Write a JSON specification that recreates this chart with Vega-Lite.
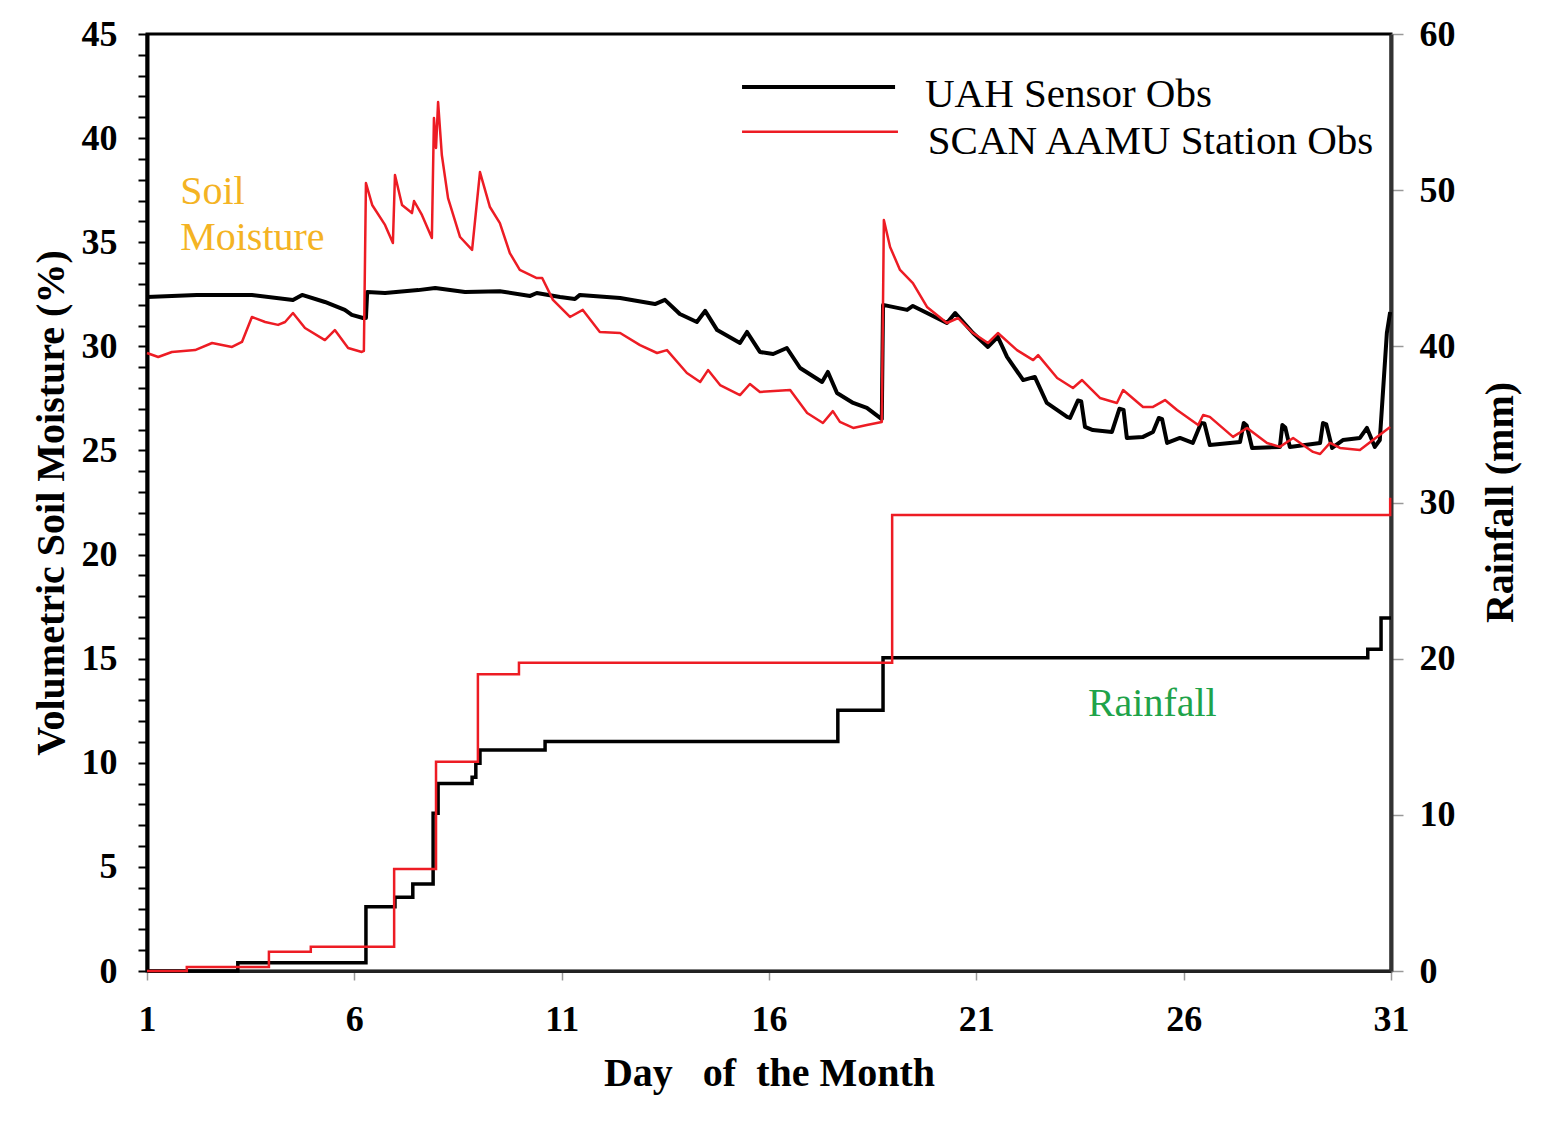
{
  "$schema": "https://vega.github.io/schema/vega-lite/v6.json",
  "width": 1244,
  "height": 937,
  "autosize": "none",
  "padding": {"left": 147, "top": 34, "right": 152, "bottom": 152},
  "background": "white",
  "config": {
    "view": {"stroke": "#000", "strokeWidth": 3},
    "font": "Liberation Serif",
    "axis": {
      "grid": false,
      "labelFont": "Liberation Serif",
      "labelFontWeight": "bold",
      "labelFontSize": 36,
      "labelColor": "#000",
      "titleFont": "Liberation Serif",
      "titleFontWeight": "bold",
      "titleFontSize": 40,
      "titleColor": "#000",
      "labelFlush": false,
      "labelOverlap": false
    }
  },
  "datasets": {
    "uah_sm": [
      {"series": "UAH Sensor Obs", "day": 1.00, "sm": 32.37},
      {"series": "UAH Sensor Obs", "day": 2.20, "sm": 32.47},
      {"series": "UAH Sensor Obs", "day": 3.53, "sm": 32.47},
      {"series": "UAH Sensor Obs", "day": 4.52, "sm": 32.23},
      {"series": "UAH Sensor Obs", "day": 4.74, "sm": 32.47},
      {"series": "UAH Sensor Obs", "day": 5.29, "sm": 32.13},
      {"series": "UAH Sensor Obs", "day": 5.77, "sm": 31.75},
      {"series": "UAH Sensor Obs", "day": 5.94, "sm": 31.51},
      {"series": "UAH Sensor Obs", "day": 6.21, "sm": 31.36},
      {"series": "UAH Sensor Obs", "day": 6.28, "sm": 31.36},
      {"series": "UAH Sensor Obs", "day": 6.31, "sm": 32.61},
      {"series": "UAH Sensor Obs", "day": 6.74, "sm": 32.56},
      {"series": "UAH Sensor Obs", "day": 7.54, "sm": 32.70},
      {"series": "UAH Sensor Obs", "day": 7.95, "sm": 32.80},
      {"series": "UAH Sensor Obs", "day": 8.67, "sm": 32.61},
      {"series": "UAH Sensor Obs", "day": 9.51, "sm": 32.65},
      {"series": "UAH Sensor Obs", "day": 10.24, "sm": 32.42},
      {"series": "UAH Sensor Obs", "day": 10.40, "sm": 32.56},
      {"series": "UAH Sensor Obs", "day": 10.96, "sm": 32.37},
      {"series": "UAH Sensor Obs", "day": 11.32, "sm": 32.27},
      {"series": "UAH Sensor Obs", "day": 11.44, "sm": 32.47},
      {"series": "UAH Sensor Obs", "day": 12.41, "sm": 32.32},
      {"series": "UAH Sensor Obs", "day": 13.25, "sm": 32.03},
      {"series": "UAH Sensor Obs", "day": 13.49, "sm": 32.23},
      {"series": "UAH Sensor Obs", "day": 13.85, "sm": 31.55},
      {"series": "UAH Sensor Obs", "day": 14.26, "sm": 31.17},
      {"series": "UAH Sensor Obs", "day": 14.46, "sm": 31.70},
      {"series": "UAH Sensor Obs", "day": 14.75, "sm": 30.78},
      {"series": "UAH Sensor Obs", "day": 15.30, "sm": 30.16},
      {"series": "UAH Sensor Obs", "day": 15.47, "sm": 30.69},
      {"series": "UAH Sensor Obs", "day": 15.78, "sm": 29.73},
      {"series": "UAH Sensor Obs", "day": 16.10, "sm": 29.63},
      {"series": "UAH Sensor Obs", "day": 16.43, "sm": 29.92},
      {"series": "UAH Sensor Obs", "day": 16.75, "sm": 28.96},
      {"series": "UAH Sensor Obs", "day": 17.28, "sm": 28.29},
      {"series": "UAH Sensor Obs", "day": 17.42, "sm": 28.77},
      {"series": "UAH Sensor Obs", "day": 17.64, "sm": 27.76},
      {"series": "UAH Sensor Obs", "day": 18.03, "sm": 27.28},
      {"series": "UAH Sensor Obs", "day": 18.36, "sm": 27.04},
      {"series": "UAH Sensor Obs", "day": 18.68, "sm": 26.56},
      {"series": "UAH Sensor Obs", "day": 18.72, "sm": 26.51},
      {"series": "UAH Sensor Obs", "day": 18.75, "sm": 31.99},
      {"series": "UAH Sensor Obs", "day": 19.33, "sm": 31.75},
      {"series": "UAH Sensor Obs", "day": 19.47, "sm": 31.94},
      {"series": "UAH Sensor Obs", "day": 19.81, "sm": 31.60},
      {"series": "UAH Sensor Obs", "day": 20.29, "sm": 31.12},
      {"series": "UAH Sensor Obs", "day": 20.49, "sm": 31.60},
      {"series": "UAH Sensor Obs", "day": 20.92, "sm": 30.64},
      {"series": "UAH Sensor Obs", "day": 21.28, "sm": 29.97},
      {"series": "UAH Sensor Obs", "day": 21.52, "sm": 30.45},
      {"series": "UAH Sensor Obs", "day": 21.74, "sm": 29.49},
      {"series": "UAH Sensor Obs", "day": 22.13, "sm": 28.38},
      {"series": "UAH Sensor Obs", "day": 22.41, "sm": 28.53},
      {"series": "UAH Sensor Obs", "day": 22.70, "sm": 27.28},
      {"series": "UAH Sensor Obs", "day": 23.19, "sm": 26.61},
      {"series": "UAH Sensor Obs", "day": 23.26, "sm": 26.56},
      {"series": "UAH Sensor Obs", "day": 23.45, "sm": 27.40},
      {"series": "UAH Sensor Obs", "day": 23.53, "sm": 27.35},
      {"series": "UAH Sensor Obs", "day": 23.62, "sm": 26.13},
      {"series": "UAH Sensor Obs", "day": 23.81, "sm": 25.98},
      {"series": "UAH Sensor Obs", "day": 24.27, "sm": 25.89},
      {"series": "UAH Sensor Obs", "day": 24.45, "sm": 27.00},
      {"series": "UAH Sensor Obs", "day": 24.55, "sm": 26.95},
      {"series": "UAH Sensor Obs", "day": 24.63, "sm": 25.60},
      {"series": "UAH Sensor Obs", "day": 25.02, "sm": 25.65},
      {"series": "UAH Sensor Obs", "day": 25.26, "sm": 25.89},
      {"series": "UAH Sensor Obs", "day": 25.40, "sm": 26.56},
      {"series": "UAH Sensor Obs", "day": 25.48, "sm": 26.50},
      {"series": "UAH Sensor Obs", "day": 25.60, "sm": 25.36},
      {"series": "UAH Sensor Obs", "day": 25.91, "sm": 25.60},
      {"series": "UAH Sensor Obs", "day": 26.22, "sm": 25.36},
      {"series": "UAH Sensor Obs", "day": 26.42, "sm": 26.32},
      {"series": "UAH Sensor Obs", "day": 26.50, "sm": 26.30},
      {"series": "UAH Sensor Obs", "day": 26.63, "sm": 25.26},
      {"series": "UAH Sensor Obs", "day": 27.36, "sm": 25.41},
      {"series": "UAH Sensor Obs", "day": 27.45, "sm": 26.32},
      {"series": "UAH Sensor Obs", "day": 27.52, "sm": 26.20},
      {"series": "UAH Sensor Obs", "day": 27.65, "sm": 25.12},
      {"series": "UAH Sensor Obs", "day": 28.32, "sm": 25.17},
      {"series": "UAH Sensor Obs", "day": 28.38, "sm": 26.22},
      {"series": "UAH Sensor Obs", "day": 28.45, "sm": 26.10},
      {"series": "UAH Sensor Obs", "day": 28.56, "sm": 25.17},
      {"series": "UAH Sensor Obs", "day": 29.29, "sm": 25.36},
      {"series": "UAH Sensor Obs", "day": 29.36, "sm": 26.32},
      {"series": "UAH Sensor Obs", "day": 29.44, "sm": 26.25},
      {"series": "UAH Sensor Obs", "day": 29.58, "sm": 25.12},
      {"series": "UAH Sensor Obs", "day": 29.84, "sm": 25.50},
      {"series": "UAH Sensor Obs", "day": 30.25, "sm": 25.60},
      {"series": "UAH Sensor Obs", "day": 30.42, "sm": 26.08},
      {"series": "UAH Sensor Obs", "day": 30.61, "sm": 25.17},
      {"series": "UAH Sensor Obs", "day": 30.73, "sm": 25.50},
      {"series": "UAH Sensor Obs", "day": 30.90, "sm": 30.64},
      {"series": "UAH Sensor Obs", "day": 30.98, "sm": 31.65}
    ],
    "scan_sm": [
      {"series": "SCAN AAMU Station Obs", "day": 1.00, "sm": 29.68},
      {"series": "SCAN AAMU Station Obs", "day": 1.27, "sm": 29.49},
      {"series": "SCAN AAMU Station Obs", "day": 1.60, "sm": 29.73},
      {"series": "SCAN AAMU Station Obs", "day": 2.16, "sm": 29.82},
      {"series": "SCAN AAMU Station Obs", "day": 2.57, "sm": 30.16},
      {"series": "SCAN AAMU Station Obs", "day": 3.05, "sm": 29.97},
      {"series": "SCAN AAMU Station Obs", "day": 3.29, "sm": 30.21},
      {"series": "SCAN AAMU Station Obs", "day": 3.53, "sm": 31.41},
      {"series": "SCAN AAMU Station Obs", "day": 3.85, "sm": 31.17},
      {"series": "SCAN AAMU Station Obs", "day": 4.16, "sm": 31.03},
      {"series": "SCAN AAMU Station Obs", "day": 4.33, "sm": 31.17},
      {"series": "SCAN AAMU Station Obs", "day": 4.52, "sm": 31.60},
      {"series": "SCAN AAMU Station Obs", "day": 4.81, "sm": 30.88},
      {"series": "SCAN AAMU Station Obs", "day": 5.29, "sm": 30.30},
      {"series": "SCAN AAMU Station Obs", "day": 5.53, "sm": 30.78},
      {"series": "SCAN AAMU Station Obs", "day": 5.85, "sm": 29.92},
      {"series": "SCAN AAMU Station Obs", "day": 6.18, "sm": 29.73},
      {"series": "SCAN AAMU Station Obs", "day": 6.23, "sm": 29.78},
      {"series": "SCAN AAMU Station Obs", "day": 6.28, "sm": 37.84},
      {"series": "SCAN AAMU Station Obs", "day": 6.43, "sm": 36.79},
      {"series": "SCAN AAMU Station Obs", "day": 6.74, "sm": 35.83},
      {"series": "SCAN AAMU Station Obs", "day": 6.93, "sm": 34.96},
      {"series": "SCAN AAMU Station Obs", "day": 6.98, "sm": 38.23},
      {"series": "SCAN AAMU Station Obs", "day": 7.15, "sm": 36.79},
      {"series": "SCAN AAMU Station Obs", "day": 7.39, "sm": 36.40},
      {"series": "SCAN AAMU Station Obs", "day": 7.44, "sm": 36.98},
      {"series": "SCAN AAMU Station Obs", "day": 7.63, "sm": 36.31},
      {"series": "SCAN AAMU Station Obs", "day": 7.87, "sm": 35.20},
      {"series": "SCAN AAMU Station Obs", "day": 7.92, "sm": 40.97},
      {"series": "SCAN AAMU Station Obs", "day": 7.97, "sm": 39.53},
      {"series": "SCAN AAMU Station Obs", "day": 8.02, "sm": 41.73},
      {"series": "SCAN AAMU Station Obs", "day": 8.11, "sm": 39.19},
      {"series": "SCAN AAMU Station Obs", "day": 8.26, "sm": 37.12},
      {"series": "SCAN AAMU Station Obs", "day": 8.55, "sm": 35.25},
      {"series": "SCAN AAMU Station Obs", "day": 8.84, "sm": 34.63},
      {"series": "SCAN AAMU Station Obs", "day": 9.03, "sm": 38.37},
      {"series": "SCAN AAMU Station Obs", "day": 9.27, "sm": 36.69},
      {"series": "SCAN AAMU Station Obs", "day": 9.51, "sm": 35.92},
      {"series": "SCAN AAMU Station Obs", "day": 9.75, "sm": 34.48},
      {"series": "SCAN AAMU Station Obs", "day": 9.99, "sm": 33.67},
      {"series": "SCAN AAMU Station Obs", "day": 10.40, "sm": 33.28},
      {"series": "SCAN AAMU Station Obs", "day": 10.53, "sm": 33.28},
      {"series": "SCAN AAMU Station Obs", "day": 10.79, "sm": 32.23},
      {"series": "SCAN AAMU Station Obs", "day": 11.20, "sm": 31.41},
      {"series": "SCAN AAMU Station Obs", "day": 11.51, "sm": 31.75},
      {"series": "SCAN AAMU Station Obs", "day": 11.92, "sm": 30.69},
      {"series": "SCAN AAMU Station Obs", "day": 12.41, "sm": 30.64},
      {"series": "SCAN AAMU Station Obs", "day": 12.89, "sm": 30.06},
      {"series": "SCAN AAMU Station Obs", "day": 13.30, "sm": 29.68},
      {"series": "SCAN AAMU Station Obs", "day": 13.54, "sm": 29.82},
      {"series": "SCAN AAMU Station Obs", "day": 14.02, "sm": 28.72},
      {"series": "SCAN AAMU Station Obs", "day": 14.34, "sm": 28.29},
      {"series": "SCAN AAMU Station Obs", "day": 14.53, "sm": 28.86},
      {"series": "SCAN AAMU Station Obs", "day": 14.82, "sm": 28.14},
      {"series": "SCAN AAMU Station Obs", "day": 15.30, "sm": 27.66},
      {"series": "SCAN AAMU Station Obs", "day": 15.54, "sm": 28.19},
      {"series": "SCAN AAMU Station Obs", "day": 15.78, "sm": 27.81},
      {"series": "SCAN AAMU Station Obs", "day": 16.51, "sm": 27.90},
      {"series": "SCAN AAMU Station Obs", "day": 16.92, "sm": 26.80},
      {"series": "SCAN AAMU Station Obs", "day": 17.30, "sm": 26.32},
      {"series": "SCAN AAMU Station Obs", "day": 17.54, "sm": 26.89},
      {"series": "SCAN AAMU Station Obs", "day": 17.71, "sm": 26.37},
      {"series": "SCAN AAMU Station Obs", "day": 18.03, "sm": 26.08},
      {"series": "SCAN AAMU Station Obs", "day": 18.36, "sm": 26.22},
      {"series": "SCAN AAMU Station Obs", "day": 18.72, "sm": 26.37},
      {"series": "SCAN AAMU Station Obs", "day": 18.77, "sm": 36.07},
      {"series": "SCAN AAMU Station Obs", "day": 18.92, "sm": 34.77},
      {"series": "SCAN AAMU Station Obs", "day": 19.16, "sm": 33.67},
      {"series": "SCAN AAMU Station Obs", "day": 19.47, "sm": 33.04},
      {"series": "SCAN AAMU Station Obs", "day": 19.81, "sm": 31.89},
      {"series": "SCAN AAMU Station Obs", "day": 20.29, "sm": 31.12},
      {"series": "SCAN AAMU Station Obs", "day": 20.56, "sm": 31.36},
      {"series": "SCAN AAMU Station Obs", "day": 20.92, "sm": 30.64},
      {"series": "SCAN AAMU Station Obs", "day": 21.28, "sm": 30.16},
      {"series": "SCAN AAMU Station Obs", "day": 21.52, "sm": 30.64},
      {"series": "SCAN AAMU Station Obs", "day": 21.98, "sm": 29.82},
      {"series": "SCAN AAMU Station Obs", "day": 22.37, "sm": 29.34},
      {"series": "SCAN AAMU Station Obs", "day": 22.49, "sm": 29.58},
      {"series": "SCAN AAMU Station Obs", "day": 22.95, "sm": 28.48},
      {"series": "SCAN AAMU Station Obs", "day": 23.33, "sm": 28.00},
      {"series": "SCAN AAMU Station Obs", "day": 23.55, "sm": 28.38},
      {"series": "SCAN AAMU Station Obs", "day": 23.98, "sm": 27.52},
      {"series": "SCAN AAMU Station Obs", "day": 24.39, "sm": 27.28},
      {"series": "SCAN AAMU Station Obs", "day": 24.54, "sm": 27.90},
      {"series": "SCAN AAMU Station Obs", "day": 25.02, "sm": 27.09},
      {"series": "SCAN AAMU Station Obs", "day": 25.26, "sm": 27.09},
      {"series": "SCAN AAMU Station Obs", "day": 25.55, "sm": 27.42},
      {"series": "SCAN AAMU Station Obs", "day": 25.84, "sm": 26.94},
      {"series": "SCAN AAMU Station Obs", "day": 26.35, "sm": 26.22},
      {"series": "SCAN AAMU Station Obs", "day": 26.47, "sm": 26.70},
      {"series": "SCAN AAMU Station Obs", "day": 26.63, "sm": 26.61},
      {"series": "SCAN AAMU Station Obs", "day": 27.19, "sm": 25.65},
      {"series": "SCAN AAMU Station Obs", "day": 27.53, "sm": 26.08},
      {"series": "SCAN AAMU Station Obs", "day": 28.01, "sm": 25.36},
      {"series": "SCAN AAMU Station Obs", "day": 28.32, "sm": 25.17},
      {"series": "SCAN AAMU Station Obs", "day": 28.64, "sm": 25.60},
      {"series": "SCAN AAMU Station Obs", "day": 29.12, "sm": 24.93},
      {"series": "SCAN AAMU Station Obs", "day": 29.29, "sm": 24.83},
      {"series": "SCAN AAMU Station Obs", "day": 29.53, "sm": 25.36},
      {"series": "SCAN AAMU Station Obs", "day": 29.77, "sm": 25.12},
      {"series": "SCAN AAMU Station Obs", "day": 30.25, "sm": 25.02},
      {"series": "SCAN AAMU Station Obs", "day": 30.66, "sm": 25.65},
      {"series": "SCAN AAMU Station Obs", "day": 30.98, "sm": 26.13}
    ],
    "uah_rain": [
      {"series": "UAH Sensor Obs", "day": 1.00, "rain": 0.0},
      {"series": "UAH Sensor Obs", "day": 3.19, "rain": 0.53},
      {"series": "UAH Sensor Obs", "day": 6.28, "rain": 4.12},
      {"series": "UAH Sensor Obs", "day": 6.98, "rain": 4.72},
      {"series": "UAH Sensor Obs", "day": 7.41, "rain": 5.57},
      {"series": "UAH Sensor Obs", "day": 7.90, "rain": 10.1},
      {"series": "UAH Sensor Obs", "day": 8.02, "rain": 12.0},
      {"series": "UAH Sensor Obs", "day": 8.84, "rain": 12.4},
      {"series": "UAH Sensor Obs", "day": 8.93, "rain": 13.3},
      {"series": "UAH Sensor Obs", "day": 9.03, "rain": 14.15},
      {"series": "UAH Sensor Obs", "day": 10.60, "rain": 14.7},
      {"series": "UAH Sensor Obs", "day": 17.66, "rain": 16.7},
      {"series": "UAH Sensor Obs", "day": 18.75, "rain": 20.06},
      {"series": "UAH Sensor Obs", "day": 30.44, "rain": 20.6},
      {"series": "UAH Sensor Obs", "day": 30.76, "rain": 22.6},
      {"series": "UAH Sensor Obs", "day": 31.00, "rain": 22.6}
    ],
    "scan_rain": [
      {"series": "SCAN AAMU Station Obs", "day": 1.00, "rain": 0.0},
      {"series": "SCAN AAMU Station Obs", "day": 1.96, "rain": 0.25},
      {"series": "SCAN AAMU Station Obs", "day": 3.94, "rain": 1.24},
      {"series": "SCAN AAMU Station Obs", "day": 4.95, "rain": 1.56},
      {"series": "SCAN AAMU Station Obs", "day": 6.96, "rain": 6.53},
      {"series": "SCAN AAMU Station Obs", "day": 7.97, "rain": 13.4},
      {"series": "SCAN AAMU Station Obs", "day": 8.98, "rain": 19.0},
      {"series": "SCAN AAMU Station Obs", "day": 9.97, "rain": 19.74},
      {"series": "SCAN AAMU Station Obs", "day": 18.97, "rain": 29.2},
      {"series": "SCAN AAMU Station Obs", "day": 30.98, "rain": 30.3}
    ]
  },
  "layer": [
    {
      "encoding": {
        "x": {"type": "quantitative", "scale": {"domain": [1, 31], "nice": false, "zero": false},
              "axis": {"values": [1, 6, 11, 16, 21, 26, 31], "title": "Day\u00a0\u00a0\u00a0of\u00a0\u00a0the Month", "domainColor": "#222", "domainWidth": 3, "tickColor": "#999", "tickWidth": 1.5, "tickSize": 9, "labelPadding": 22, "titlePadding": 16}},
        "y": {"type": "quantitative", "scale": {"domain": [0, 45], "nice": false},
              "axis": {"values": [0,1,2,3,4,5,6,7,8,9,10,11,12,13,14,15,16,17,18,19,20,21,22,23,24,25,26,27,28,29,30,31,32,33,34,35,36,37,38,39,40,41,42,43,44,45],
                       "labelExpr": "datum.value % 5 === 0 ? datum.label : ''", "title": "Volumetric Soil Moisture (%)", "domainColor": "#000", "domainWidth": 4, "tickColor": "#000", "tickWidth": 2, "tickSize": 9, "labelPadding": 21, "titlePadding": 10}}
      },
      "layer": [
        {
          "data": {"name": "uah_sm"},
          "mark": {"type": "line", "strokeWidth": 4, "strokeJoin": "round"},
          "encoding": {
            "x": {"field": "day"},
            "y": {"field": "sm"},
            "color": {"field": "series", "type": "nominal", "scale": {"domain": ["UAH Sensor Obs", "SCAN AAMU Station Obs"], "range": ["#000000", "#ed1c24"]}, "legend": null}
          }
        },
        {
          "data": {"name": "scan_sm"},
          "mark": {"type": "line", "strokeWidth": 2.5, "strokeJoin": "round"},
          "encoding": {
            "x": {"field": "day"},
            "y": {"field": "sm"},
            "color": {"field": "series", "type": "nominal", "legend": null}
          }
        },
        {
          "data": {"values": [{}]},
          "mark": {"type": "rule", "color": "#000000", "strokeWidth": 4},
          "encoding": {
            "x": {"datum": 15.35},
            "x2": {"datum": 19.04},
            "y": {"datum": 42.46}
          }
        },
        {
          "data": {"values": [{}]},
          "mark": {"type": "rule", "color": "#ed1c24", "strokeWidth": 2.5},
          "encoding": {
            "x": {"datum": 15.35},
            "x2": {"datum": 19.11},
            "y": {"datum": 40.30}
          }
        },
        {
          "data": {"values": [{}]},
          "mark": {"type": "text", "text": "UAH Sensor Obs", "font": "Liberation Serif", "fontSize": 41, "align": "left", "baseline": "middle", "color": "#000"},
          "encoding": {
            "x": {"datum": 19.76},
            "y": {"datum": 42.07}
          }
        },
        {
          "data": {"values": [{}]},
          "mark": {"type": "text", "text": "SCAN AAMU Station Obs", "font": "Liberation Serif", "fontSize": 41, "align": "left", "baseline": "middle", "color": "#000"},
          "encoding": {
            "x": {"datum": 19.83},
            "y": {"datum": 39.82}
          }
        },
        {
          "data": {"values": [{}]},
          "mark": {"type": "text", "text": ["Soil", "Moisture"], "lineHeight": 46, "font": "Liberation Serif", "fontSize": 40, "align": "left", "baseline": "middle", "color": "#f4b323"},
          "encoding": {
            "x": {"datum": 1.80},
            "y": {"datum": 37.41}
          }
        }
      ]
    },
    {
      "encoding": {
        "x": {"type": "quantitative", "scale": {"domain": [1, 31], "nice": false, "zero": false},
              "axis": {"values": [1, 6, 11, 16, 21, 26, 31], "title": "Day\u00a0\u00a0\u00a0of\u00a0\u00a0the Month", "domainColor": "#222", "domainWidth": 3, "tickColor": "#999", "tickWidth": 1.5, "tickSize": 9, "labelPadding": 22, "titlePadding": 16}},
        "y": {"type": "quantitative", "scale": {"domain": [0, 60], "nice": false},
              "axis": {"orient": "right", "values": [0, 10, 20, 30, 40, 50, 60], "title": "Rainfall (mm)", "titleAngle": 270, "titleX": 109, "titleY": 468, "titleAlign": "center", "titleBaseline": "middle", "domainColor": "#333", "domainWidth": 4, "tickColor": "#999", "tickWidth": 1.5, "tickSize": 12, "labelPadding": 16}}
      },
      "layer": [
        {
          "data": {"name": "uah_rain"},
          "mark": {"type": "line", "strokeWidth": 3.5, "interpolate": "step-after"},
          "encoding": {
            "x": {"field": "day"},
            "y": {"field": "rain"},
            "color": {"field": "series", "type": "nominal", "legend": null}
          }
        },
        {
          "data": {"name": "scan_rain"},
          "mark": {"type": "line", "strokeWidth": 2.5, "interpolate": "step-after"},
          "encoding": {
            "x": {"field": "day"},
            "y": {"field": "rain"},
            "color": {"field": "series", "type": "nominal", "legend": null}
          }
        },
        {
          "data": {"values": [{}]},
          "mark": {"type": "text", "text": "Rainfall", "font": "Liberation Serif", "fontSize": 40, "align": "left", "baseline": "middle", "color": "#1fa34a"},
          "encoding": {
            "x": {"datum": 23.69},
            "y": {"datum": 17.10}
          }
        }
      ]
    }
  ],
  "resolve": {"scale": {"y": "independent"}}
}
